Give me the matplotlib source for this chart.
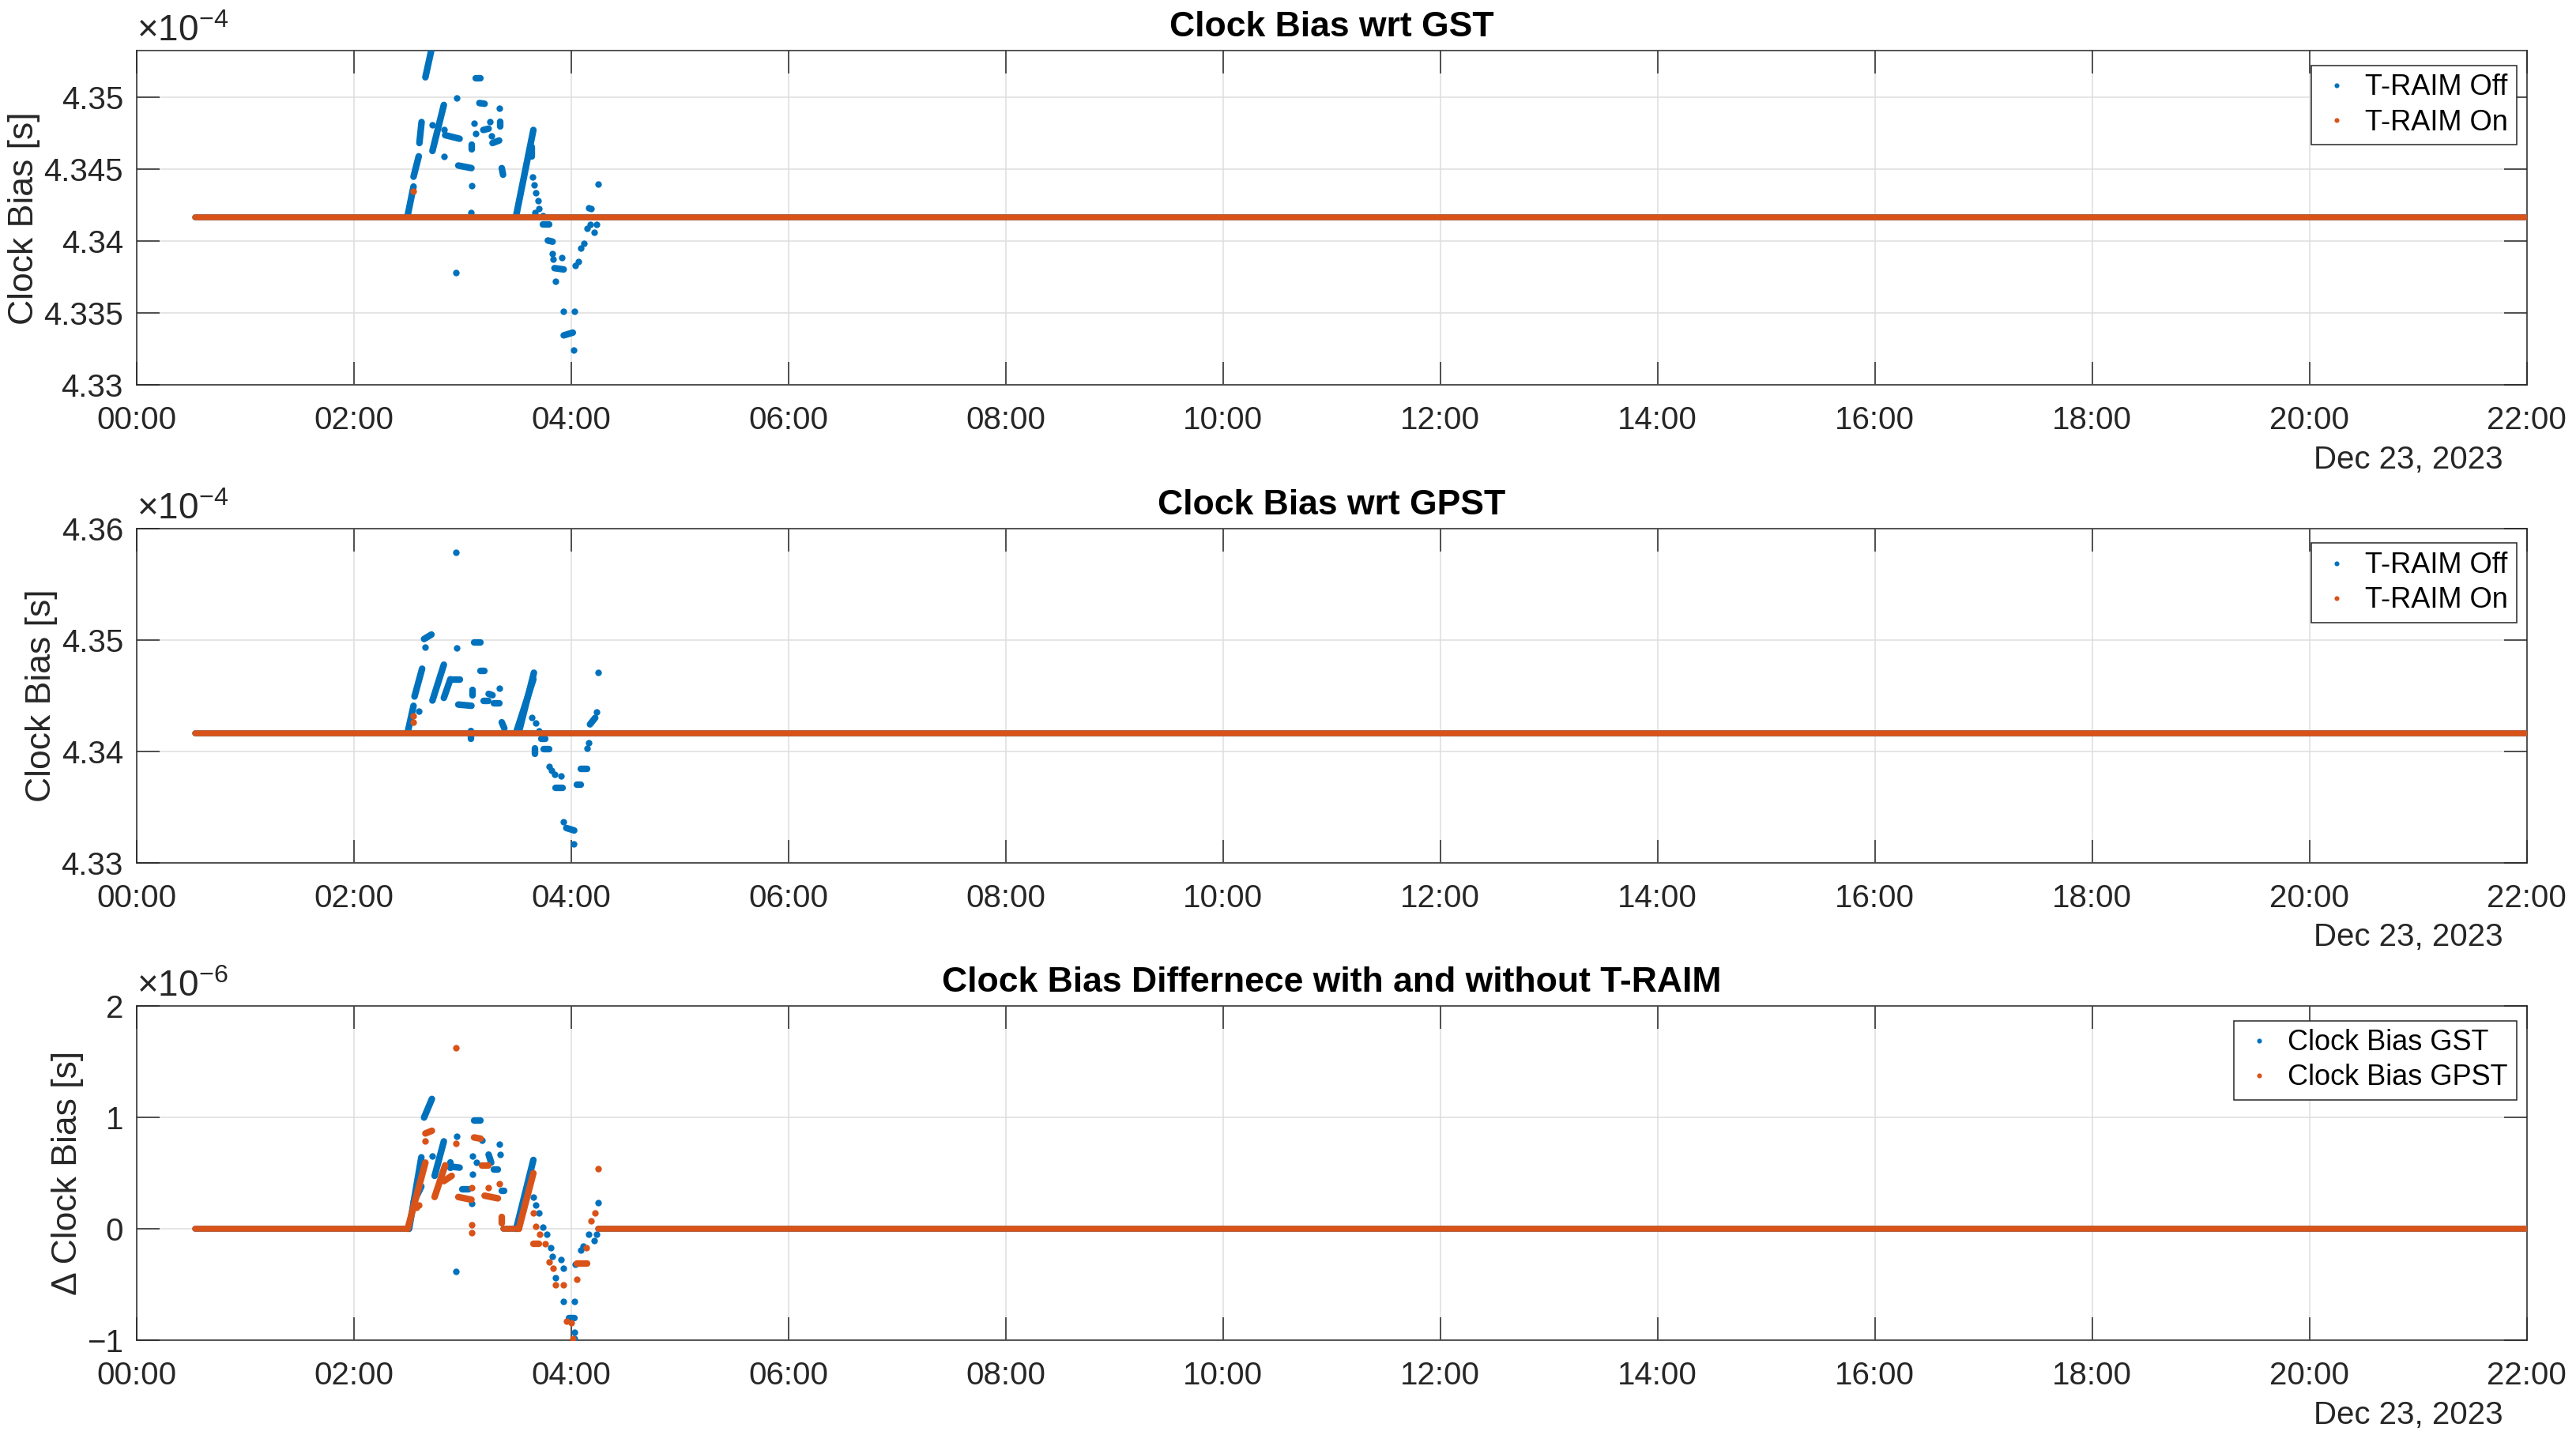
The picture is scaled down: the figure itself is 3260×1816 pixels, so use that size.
import matplotlib
matplotlib.use('Agg')
import matplotlib.pyplot as plt
import matplotlib.dates as mdates
from matplotlib.ticker import FuncFormatter, FixedLocator
from matplotlib.lines import Line2D
import numpy as np
import pandas as pd

plt.rcParams['font.family'] = ['Liberation Sans', 'DejaVu Sans']
plt.rcParams['mathtext.fontset'] = 'custom'
plt.rcParams['mathtext.rm'] = 'Liberation Sans'
plt.rcParams['mathtext.it'] = 'Liberation Sans:italic'
plt.rcParams['mathtext.bf'] = 'Liberation Sans:bold'

# ---------------- data (time in hours of Dec 23, 2023) ----------------
BASE_DATE = pd.Timestamp('2023-12-23 00:00')
TICK_HOURS = list(range(0, 23, 2))

# Panel 1: clock bias wrt GST, values in units of 1e-4 s
gst_base_level = 4.34164
gst_off_base_spans = [(0.54, 22.0)]
gst_on_base_spans = [(0.54, 22.0)]
gst_off_segments = [
    (2.497, 4.34177, 2.551, 4.34378), (2.551, 4.34446, 2.599, 4.34588),
    (2.605, 4.34680, 2.625, 4.34826), (2.660, 4.35137, 2.716, 4.35329),
    (2.725, 4.34625, 2.830, 4.34945), (2.842, 4.34735, 2.975, 4.34710),
    (2.963, 4.34524, 3.084, 4.34506), (3.121, 4.35132, 3.169, 4.35132),
    (3.157, 4.34958, 3.205, 4.34953), (3.193, 4.34771, 3.242, 4.34780),
    (3.278, 4.34680, 3.339, 4.34698), (3.363, 4.34506, 3.375, 4.34460),
    (3.089, 4.34671, 3.089, 4.34634), (3.346, 4.34826, 3.346, 4.34793),
    (3.496, 4.34177, 3.654, 4.34771), (3.637, 4.34652, 3.637, 4.34588),
    (3.739, 4.34116, 3.799, 4.34116), (3.787, 4.34003, 3.831, 4.33995),
    (3.848, 4.33811, 3.933, 4.33802), (3.933, 4.33344, 4.017, 4.33363),
]
gst_off_t = [2.720, 2.830, 2.830, 2.951, 2.939, 3.084, 3.079, 3.108, 3.121, 3.254,
             3.271, 3.339, 3.649, 3.659, 3.673, 3.695, 3.702, 3.666, 3.739, 3.829,
             3.836, 3.913, 3.860, 3.933, 4.034, 4.022, 4.042, 4.066, 4.090, 4.122,
             4.146, 4.175, 4.216, 4.236, 4.187, 4.163, 4.248]
gst_off_v = [4.34808, 4.34585, 4.34771, 4.34991, 4.33780, 4.34383, 4.34195, 4.34817,
             4.34744, 4.34826, 4.34731, 4.34921, 4.34446, 4.34387, 4.34336, 4.34277,
             4.34222, 4.34195, 4.34177, 4.33911, 4.33875, 4.33884, 4.33719, 4.33509,
             4.33509, 4.33244, 4.33829, 4.33857, 4.33948, 4.33985, 4.34085, 4.34113,
             4.34058, 4.34113, 4.34222, 4.34232, 4.34396]
gst_on_t = [2.551]
gst_on_v = [4.34345]

# Panel 2: clock bias wrt GPST, values in units of 1e-4 s
gpst_base_level = 4.34160
gpst_off_base_spans = [(0.54, 22.0)]
gpst_on_base_spans = [(0.54, 22.0)]
gpst_off_segments = [
    (2.497, 4.34171, 2.551, 4.34410), (2.560, 4.34493, 2.630, 4.34743),
    (2.648, 4.35010, 2.716, 4.35050), (2.725, 4.34457, 2.830, 4.34779),
    (2.830, 4.34481, 2.890, 4.34648), (2.890, 4.34648, 2.975, 4.34648),
    (2.963, 4.34421, 3.084, 4.34410), (3.079, 4.34183, 3.079, 4.34112),
    (3.108, 4.34981, 3.169, 4.34981), (3.096, 4.34552, 3.096, 4.34505),
    (3.169, 4.34724, 3.205, 4.34724), (3.193, 4.34457, 3.242, 4.34457),
    (3.242, 4.34517, 3.278, 4.34505), (3.290, 4.34433, 3.339, 4.34433),
    (3.363, 4.34262, 3.387, 4.34207), (3.496, 4.34171, 3.654, 4.34648),
    (3.520, 4.34171, 3.659, 4.34707), (3.727, 4.34112, 3.763, 4.34112),
    (3.751, 4.34024, 3.799, 4.34024), (3.666, 4.34029, 3.666, 4.33981),
    (3.860, 4.33671, 3.920, 4.33671), (3.957, 4.33312, 4.030, 4.33290),
    (4.054, 4.33702, 4.090, 4.33702), (4.090, 4.33845, 4.151, 4.33845),
    (4.175, 4.34243, 4.223, 4.34302),
]
gpst_off_t = [2.939, 2.951, 2.660, 2.599, 3.339, 3.637, 3.678, 3.702, 3.799, 3.824,
              3.848, 3.908, 3.933, 4.022, 4.151, 4.163, 4.236, 4.248]
gpst_off_v = [4.35786, 4.34929, 4.34938, 4.34362, 4.34564, 4.34302, 4.34255, 4.34183,
              4.33862, 4.33826, 4.33790, 4.33779, 4.33369, 4.33171, 4.34029, 4.34081,
              4.34357, 4.34707]
gpst_on_t = [2.551, 2.551]
gpst_on_v = [4.34319, 4.34262]

# Panel 3: difference with / without T-RAIM, values in units of 1e-6 s
diff_base_level = 0.0
diff_gst_base_spans = [(0.54, 2.497), (3.375, 3.520), (4.250, 22.0)]
diff_gpst_base_spans = [(0.54, 2.497), (3.375, 3.520), (4.250, 22.0)]
diff_gst_segments = [
    (2.510, 0.0, 2.623, 0.643), (2.551, 0.238, 2.623, 0.381),
    (2.648, 1.000, 2.720, 1.167), (2.745, 0.476, 2.830, 0.786),
    (2.890, 0.595, 2.890, 0.548), (2.890, 0.560, 2.975, 0.550),
    (3.108, 0.971, 3.169, 0.971), (2.999, 0.357, 3.060, 0.357),
    (3.242, 0.667, 3.266, 0.595), (3.290, 0.536, 3.327, 0.536),
    (3.363, 0.345, 3.387, 0.345), (3.496, 0.0, 3.654, 0.619),
    (3.981, -0.798, 4.030, -0.798),
]
diff_gst_t = [2.939, 2.720, 2.951, 3.096, 3.133, 3.096, 3.084, 3.181, 3.339, 3.351,
              3.654, 3.678, 3.702, 3.739, 3.775, 3.811, 3.831, 3.908, 3.933, 3.860,
              3.933, 4.034, 4.030, 4.030, 4.042, 4.090, 4.114, 4.163, 4.211, 4.236,
              4.248]
diff_gst_v = [-0.386, 0.655, 0.833, 0.655, 0.595, 0.488, 0.226, 0.798, 0.762, 0.667,
              0.286, 0.214, 0.143, 0.012, -0.048, -0.167, -0.250, -0.274, -0.357,
              -0.440, -0.655, -0.655, -0.929, -0.988, -0.321, -0.190, -0.155, -0.048,
              -0.107, -0.048, 0.238]
diff_gpst_segments = [
    (2.497, 0.0, 2.660, 0.595), (2.660, 0.857, 2.720, 0.881),
    (2.745, 0.286, 2.842, 0.571), (2.830, 0.429, 2.902, 0.476),
    (3.108, 0.821, 3.169, 0.810), (2.963, 0.286, 3.084, 0.262),
    (3.181, 0.571, 3.242, 0.571), (3.205, 0.298, 3.327, 0.274),
    (3.363, 0.107, 3.363, 0.048), (3.520, 0.0, 3.654, 0.500),
    (3.654, -0.131, 3.702, -0.131), (4.054, -0.310, 4.151, -0.310),
]
diff_gpst_t = [2.939, 2.660, 2.599, 2.575, 2.939, 3.084, 3.084, 3.084, 3.242, 3.339,
               3.654, 3.678, 3.714, 3.763, 3.799, 3.836, 3.860, 3.933, 3.957, 4.005,
               4.017, 4.054, 4.139, 4.187, 4.223, 4.248]
diff_gpst_v = [1.624, 0.786, 0.214, 0.190, 0.767, 0.036, -0.036, 0.369, 0.369, 0.405,
               0.143, 0.024, -0.048, -0.131, -0.298, -0.357, -0.500, -0.500, -0.833,
               -0.845, -0.988, -0.452, -0.167, 0.071, 0.143, 0.543]

titles = ['Clock Bias wrt GST', 'Clock Bias wrt GPST',
          'Clock Bias Differnece with and without T-RAIM']
ylabels = ['Clock Bias [s]', 'Clock Bias [s]', '\u0394 Clock Bias [s]']
legend_labels = [['T-RAIM Off', 'T-RAIM On'], ['T-RAIM Off', 'T-RAIM On'],
                 ['Clock Bias GST', 'Clock Bias GPST']]
scales = [1e-4, 1e-4, 1e-6]
exponents = [-4, -4, -6]
yticks = [[4.33, 4.335, 4.34, 4.345, 4.35], [4.33, 4.34, 4.35, 4.36], [-1, 0, 1, 2]]
ylims = [(4.33, 4.3532), (4.33, 4.36), (-1, 2)]
date_label = 'Dec 23, 2023'

# ---------------- styling ----------------
BLUE = '#0072BD'
ORANGE = '#D95319'
AXC = '#262626'
GRIDC = '#dedede'
MS = 6.0
LW_BASE = 5.4


def to_time(hours):
    return (BASE_DATE + pd.to_timedelta(np.asarray(hours, dtype=float), unit='h')).to_numpy()


fig = plt.figure(figsize=(32.6, 18.16), dpi=100)
left, width, height = 0.05294, 0.92791, 0.2327
bottoms = [0.7318, 0.3988, 0.0661]

panels = [
    (gst_base_level, gst_off_base_spans, gst_on_base_spans, gst_off_segments, [],
     gst_off_t, gst_off_v, gst_on_t, gst_on_v),
    (gpst_base_level, gpst_off_base_spans, gpst_on_base_spans, gpst_off_segments, [],
     gpst_off_t, gpst_off_v, gpst_on_t, gpst_on_v),
    (diff_base_level, diff_gst_base_spans, diff_gpst_base_spans, diff_gst_segments,
     diff_gpst_segments, diff_gst_t, diff_gst_v, diff_gpst_t, diff_gpst_v),
]

for i, (lvl, spans_a, spans_b, segs_a, segs_b, ta, va, tb, vb) in enumerate(panels):
    sc = scales[i]
    ax = fig.add_axes([left, bottoms[i], width, height])
    for col, spans, segs, tt, vv in ((BLUE, spans_a, segs_a, ta, va),
                                     (ORANGE, spans_b, segs_b, tb, vb)):
        for (h0, h1) in spans:
            ax.plot(to_time([h0, h1]), np.array([lvl, lvl]) * sc, color=col,
                    lw=LW_BASE, solid_capstyle='round', zorder=3)
        for (h0, v0, h1, v1) in segs:
            ax.plot(to_time([h0, h1]), np.array([v0, v1]) * sc, color=col,
                    lw=MS, solid_capstyle='round', zorder=3)
        if len(tt):
            ax.plot(to_time(tt), np.array(vv) * sc, 'o', color=col, ms=MS, mew=0,
                    zorder=3)

    ax.set_xlim(to_time([0, 22]))
    ax.set_ylim(ylims[i][0] * sc, ylims[i][1] * sc)
    ax.xaxis.set_major_locator(mdates.HourLocator(byhour=TICK_HOURS))
    ax.xaxis.set_major_formatter(mdates.DateFormatter('%H:%M'))
    ax.yaxis.set_major_locator(FixedLocator([t * sc for t in yticks[i]]))
    ax.yaxis.set_major_formatter(FuncFormatter(
        lambda v, p, s=sc: ('%g' % round(v / s, 6)).replace('-', '\u2212')))

    ax.grid(True, color=GRIDC, lw=1.1)
    ax.set_axisbelow(True)
    for sp in ax.spines.values():
        sp.set_color(AXC)
        sp.set_linewidth(1.1)
    ax.tick_params(axis='both', direction='in', length=21, width=1.1, color=AXC,
                   top=True, right=True, labelsize=29, labelcolor=AXC)
    ax.tick_params(axis='x', pad=19)
    ax.tick_params(axis='y', pad=12)

    ax.set_title(titles[i], fontsize=32, fontweight='bold', pad=13, color='black')
    ax.set_ylabel(ylabels[i], fontsize=32, color=AXC, labelpad=3)
    ax.text(0.0, 1.006, r'$\times\mathregular{10^{%d}}$' % exponents[i],
            transform=ax.transAxes, ha='left', va='bottom', fontsize=33, color=AXC)
    ax.text(0.99, -0.224, date_label, transform=ax.transAxes, ha='right',
            va='center', fontsize=29, color=AXC)

    handles = [Line2D([], [], ls='none', marker='o', ms=4.4, mew=0, color=BLUE),
               Line2D([], [], ls='none', marker='o', ms=4.4, mew=0, color=ORANGE)]
    leg = ax.legend(handles, legend_labels[i], loc='upper right',
                    bbox_to_anchor=(0.9958, 0.957), fontsize=26, frameon=True,
                    fancybox=False, edgecolor=AXC, framealpha=1, borderpad=0.3,
                    handlelength=1.2, handletextpad=0.4, labelspacing=0.25,
                    borderaxespad=0)
    leg.get_frame().set_linewidth(1.1)

fig.savefig('out.png', dpi=100)
